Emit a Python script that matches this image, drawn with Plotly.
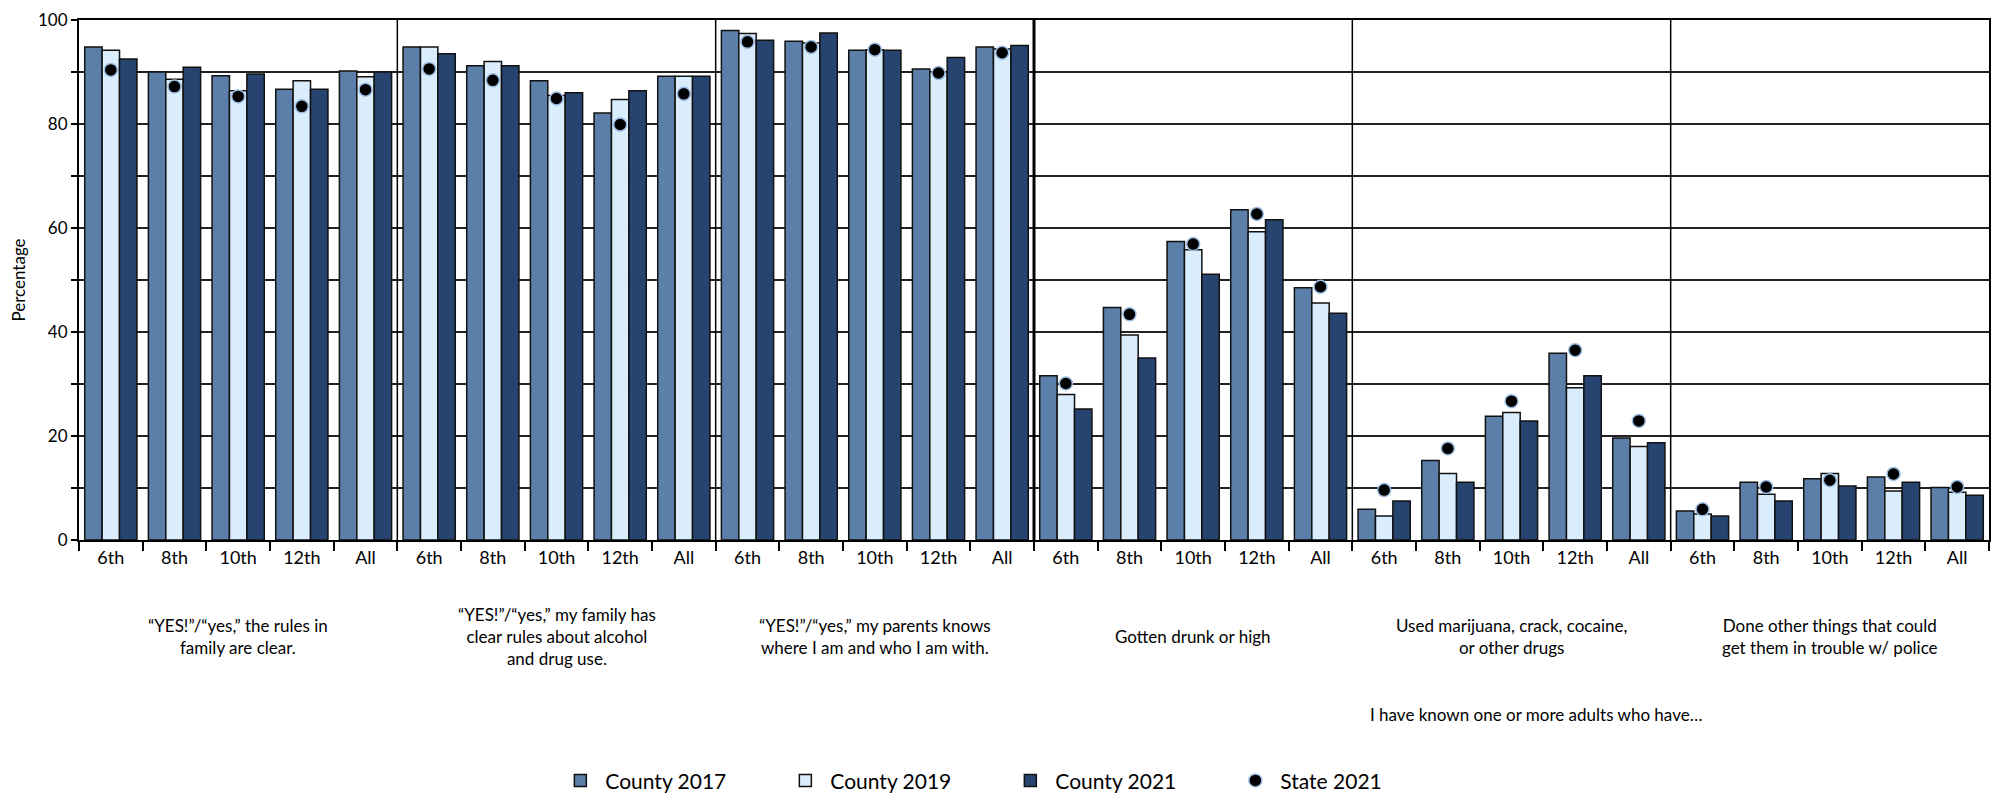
import plotly.graph_objects as go

# categories
grades = ["6th", "8th", "10th", "12th", "All"]
groups = [
    "\u201cYES!\u201d/\u201cyes,\u201d the rules in<br>family are clear.",
    "\u201cYES!\u201d/\u201cyes,\u201d my family has<br>clear rules about alcohol<br>and drug use.",
    "\u201cYES!\u201d/\u201cyes,\u201d my parents knows<br>where I am and who I am with.",
    "Gotten drunk or high",
    "Used marijuana, crack, cocaine,<br>or other drugs",
    "Done other things that could<br>get them in trouble w/ police",
]
subtitle = "I have known one or more adults who have\u2026"

# values (percent)
county_2017 = [94.8, 90.0, 89.3, 86.7, 90.2,
               94.8, 91.2, 88.3, 82.1, 89.2,
               98.0, 95.9, 94.2, 90.6, 94.8,
               31.6, 44.7, 57.4, 63.5, 48.5,
               5.9, 15.3, 23.8, 35.9, 19.6,
               5.6, 11.1, 11.8, 12.1, 10.1]
county_2019 = [94.2, 88.6, 86.4, 88.3, 89.1,
               94.8, 92.0, 85.5, 84.7, 89.2,
               97.4, 95.6, 94.3, 90.0, 94.4,
               28.0, 39.4, 55.8, 59.3, 45.6,
               4.6, 12.8, 24.5, 29.3, 18.0,
               5.0, 8.8, 12.8, 9.4, 9.2]
county_2021 = [92.5, 90.9, 89.6, 86.7, 90.0,
               93.5, 91.2, 86.0, 86.4, 89.2,
               96.1, 97.5, 94.2, 92.8, 95.1,
               25.2, 35.0, 51.1, 61.6, 43.6,
               7.5, 11.1, 22.9, 31.6, 18.7,
               4.6, 7.5, 10.4, 11.1, 8.6]
state_2021 = [90.4, 87.2, 85.3, 83.4, 86.6,
              90.6, 88.4, 84.9, 79.9, 85.8,
              95.8, 94.8, 94.3, 89.8, 93.7,
              30.1, 43.4, 56.9, 62.7, 48.7,
              9.6, 17.6, 26.7, 36.5, 22.9,
              5.9, 10.2, 11.5, 12.7, 10.2]

FONT = "Lato, Roboto, sans-serif"

keys = [f"{g}|{gr}" for g in range(len(groups)) for gr in grades]
labels = [gr for g in range(len(groups)) for gr in grades]

fig = go.Figure()
series = [("County 2017", county_2017, "#5b7fa8"),
          ("County 2019", county_2019, "#d9edfd"),
          ("County 2021", county_2021, "#26446f")]
for name, vals, col in series:
    fig.add_trace(go.Bar(x=keys, y=vals, name=name,
                         marker=dict(color=col, line=dict(color="#111", width=1.5))))

fig.add_trace(go.Scatter(x=keys, y=state_2021, name="State 2021", mode="markers",
                         marker=dict(color="black", size=13,
                                     line=dict(color="#9dbde3", width=1.5))))

# separators between groups
n = len(grades)
for k in range(1, len(groups)):
    fig.add_shape(type="line", xref="x", yref="paper",
                  x0=k * n - 0.5, x1=k * n - 0.5, y0=0, y1=1,
                  line=dict(color="black", width=3 if k == 3 else 1.5))

for i, g in enumerate(groups):
    fig.add_annotation(x=(i + 0.5) / len(groups), xref="paper", y=-0.185, yref="paper",
                       text=g, showarrow=False, xanchor="center", yanchor="middle",
                       font=dict(size=17, color="black", family=FONT))
fig.add_annotation(x=0.763, xref="paper", y=-0.335, yref="paper", text=subtitle,
                   showarrow=False, xanchor="center", yanchor="middle",
                   font=dict(size=17, color="black", family=FONT))

# page body adds an 8px offset, so the figure is a bit smaller than the window
fig.update_layout(
    width=1991, height=796,
    margin=dict(l=71, r=10, t=12, b=264, autoexpand=False),
    paper_bgcolor="white", plot_bgcolor="white",
    font=dict(family=FONT, size=17, color="black"),
    barmode="group", bargap=0.18, bargroupgap=0,
    legend=dict(orientation="h", x=0.485, xanchor="center", y=-0.463, yanchor="middle",
                font=dict(size=21, family=FONT), itemwidth=40,
                entrywidth=170, entrywidthmode="pixels"),
    showlegend=True,
)
fig.update_xaxes(
    type="category", tickmode="array", tickvals=keys, ticktext=labels,
    tickson="boundaries", ticks="outside", ticklen=9, tickwidth=1.5, tickcolor="black",
    showline=True, linecolor="black", linewidth=2, mirror=True,
    range=[-0.5, len(keys) - 0.5], showgrid=False, automargin=False,
    tickfont=dict(size=18, family=FONT),
)
fig.update_yaxes(
    range=[0, 100], tickmode="array", tickvals=list(range(0, 101, 10)),
    ticktext=[str(v) if v % 20 == 0 else "" for v in range(0, 101, 10)],
    ticks="outside", ticklen=6, tickwidth=1.5, tickcolor="black",
    showline=True, linecolor="black", linewidth=2, mirror=True,
    showgrid=True, gridcolor="#222", gridwidth=1.5, zeroline=False, automargin=False,
    ticklabeloverflow="allow",
    title=dict(text="Percentage", font=dict(size=17, family=FONT), standoff=16),
    tickfont=dict(size=17, family=FONT),
)

fig.write_html("out.html")
